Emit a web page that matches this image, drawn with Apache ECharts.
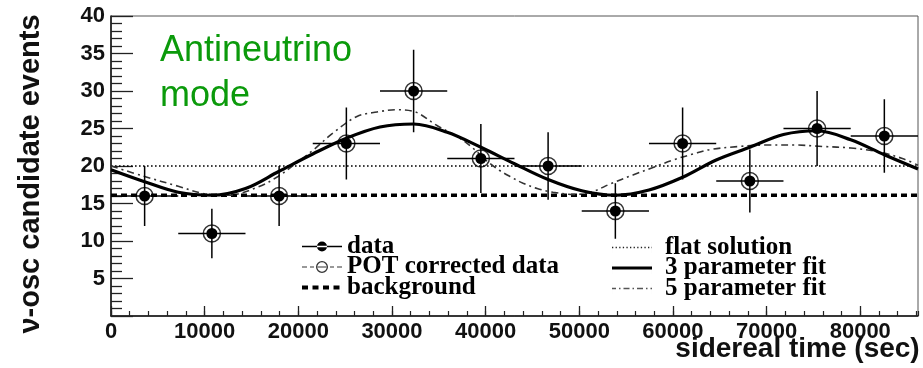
<!DOCTYPE html>
<html>
<head>
<meta charset="utf-8">
<script src="https://cdn.jsdelivr.net/npm/echarts@6/dist/echarts.min.js"></script>
<style>
  html, body { margin: 0; padding: 0; background: #fff; }
  #chart { width: 923px; height: 368px; }
</style>
</head>
<body>
<div id="chart"></div>
<script>
// Sidereal-time bins (seconds) and candidate event counts
const dayLength = 86164;
const binCenters = [3590, 10770, 17950, 25130, 32310, 39490, 46670, 53850, 61030, 68210, 75390, 82570];
const binHalfWidth = 3590;
const eventCounts = [16, 11, 16, 23, 30, 21, 20, 14, 23, 18, 25, 24];
const countErrors = [4.0, 3.3, 4.0, 4.8, 5.5, 4.6, 4.5, 3.7, 4.8, 4.2, 5.0, 4.9];

// Horizontal reference levels
const backgroundLevel = 16.1;
const flatLevel = 20.0;

// 3 parameter fit curve
const fit3Times = [0, 3590, 7180, 10770, 14360, 17950, 21540, 25130, 28720, 32310, 35900, 39490, 43080,
  46670, 50260, 53850, 57440, 61030, 64620, 68210, 71800, 75390, 78980, 82570, 86164];
const fit3Values = [19.5, 17.9, 16.5, 16.1, 17.0, 19.3, 21.6, 23.7, 25.2, 25.6, 24.5, 22.5, 20.3,
  18.2, 16.7, 16.1, 16.8, 18.5, 20.8, 22.5, 24.2, 24.7, 23.5, 21.5, 19.6];

// 5 parameter fit curve
const fit5Times = [0, 3590, 7180, 10000, 12500, 15700, 17830, 19700, 21570, 23700, 26260, 28400, 30500,
  32500, 34800, 37260, 38540, 40200, 41500, 42600, 44000, 45500, 47200, 49500, 51460, 53280, 55730,
  57870, 60010, 62140, 64000, 67000, 70000, 73000, 76000, 79000, 81900, 84500, 86164];
const fit5Values = [20.0, 18.6, 17.3, 16.3, 16.1, 17.2, 18.6, 20.3, 22.1, 24.4, 26.6, 27.2, 27.5,
  27.2, 25.4, 23.7, 22.5, 20.6, 19.4, 18.6, 17.7, 17.0, 16.5, 16.2, 16.6, 17.6, 18.8,
  19.8, 20.8, 21.6, 22.2, 22.6, 22.8, 22.8, 22.6, 22.4, 21.9, 21.0, 20.1];

const pointData = binCenters.map((t, i) => [t, eventCounts[i], countErrors[i]]);
const zip = (ts, vs) => ts.map((t, i) => [t, vs[i]]);

const sansBold = { fontFamily: 'Liberation Sans, Arial, sans-serif', fontWeight: 'bold', color: '#111' };
const legendText = { fontFamily: 'Liberation Serif, Times New Roman, serif', fontWeight: 'bold',
  fontSize: 25, lineHeight: 20, color: '#000' };

// Legend icon paths: a row of rectangles along y = 6 inside a 40 x 12 box
function dashPath(dash, gap, h, phase) {
  let d = '';
  for (let x = phase || 0; x < 40; x += dash + gap) {
    const w = Math.min(dash, 40 - x);
    d += 'M' + x + ',' + (6 - h / 2) + 'h' + w + 'v' + h + 'h' + (-w) + 'z ';
  }
  return d;
}
const frameDots = 'M0,0h0.01v12h-0.01z M39.99,0h0.01v12h-0.01z ';
const iconData = 'path://' + frameDots + 'M0,5.3h40v1.4h-40z M15,6a5,5 0 1,0 10,0a5,5 0 1,0 -10,0z';
const iconPot = 'path://' + frameDots + 'M0,5.4h5v1.2h-5z M8,5.4h4v1.2h-4z M28,5.4h4v1.2h-4z M35,5.4h5v1.2h-5z ' +
  'M15,5.4h10v1.2h-10z M14,6a6,6 0 1,0 12,0a6,6 0 1,0 -12,0z M15.3,6a4.7,4.7 0 1,1 9.4,0a4.7,4.7 0 1,1 -9.4,0z';
const iconBackground = 'path://' + frameDots + dashPath(6, 4.5, 4, 0);
const iconFlat = 'path://' + frameDots + dashPath(1.3, 2.3, 1.3, 0);
const iconFit3 = 'path://' + frameDots + 'M0,4.4h40v3.2h-40z';
const iconFit5 = 'path://' + frameDots +
  'M0,5.3h4v1.4h-4z M7,5.3h1.5v1.4h-1.5z M11.5,5.3h6v1.4h-6z M20.5,5.3h1.5v1.4h-1.5z ' +
  'M25,5.3h6v1.4h-6z M34,5.3h1.5v1.4h-1.5z M38.5,5.3h1.5v1.4h-1.5z';

const chart = echarts.init(document.getElementById('chart'), null, { renderer: 'canvas' });
const plain = v => String(v);

chart.setOption({
  animation: false,
  backgroundColor: '#fff',
  title: {
    text: 'Antineutrino\nmode',
    left: 160, top: 29, padding: 0,
    textStyle: { fontFamily: 'Liberation Sans, Arial, sans-serif', fontWeight: 'normal',
      fontSize: 36, lineHeight: 45, color: '#0b9a0b' }
  },
  grid: {
    left: 111, right: 5, top: 16, bottom: 52,
    containLabel: false, outerBoundsMode: 'none',
    show: true, borderColor: '#555', borderWidth: 1, backgroundColor: 'transparent'
  },
  legend: [
    {
      orient: 'vertical', left: 302, top: 234, padding: 0, itemGap: -4.5,
      itemWidth: 40, itemHeight: 12, selectedMode: false, symbolKeepAspect: true,
      textStyle: legendText,
      data: [
        { name: 'data', icon: iconData, itemStyle: { color: '#000', borderWidth: 0 } },
        { name: 'POT corrected data', icon: iconPot, itemStyle: { color: '#000', borderWidth: 0 } },
        { name: 'background', icon: iconBackground, itemStyle: { color: '#000', borderWidth: 0 } }
      ]
    },
    {
      orient: 'vertical', left: 612, top: 235, padding: 0, itemGap: -4.5,
      itemWidth: 40, itemHeight: 12, selectedMode: false, symbolKeepAspect: true,
      textStyle: Object.assign({}, legendText, { padding: [0, 0, 0, 8] }),
      data: [
        { name: 'flat solution', icon: iconFlat, itemStyle: { color: '#222', borderWidth: 0 } },
        { name: '3 parameter fit', icon: iconFit3, itemStyle: { color: '#000', borderWidth: 0 } },
        { name: '5 parameter fit', icon: iconFit5, itemStyle: { color: '#555', borderWidth: 0 } }
      ]
    }
  ],
  xAxis: [
    {
      type: 'value', min: 0, max: dayLength, interval: 10000, position: 'bottom',
      name: 'sidereal time (sec)', nameLocation: 'middle', nameGap: 19, nameMoveOverlap: false,
      nameTextStyle: Object.assign({}, sansBold, { fontSize: 28, align: 'center',
        verticalAlign: 'top', padding: [0, 0, 0, 566] }),
      axisLine: { show: true, onZero: false, lineStyle: { color: '#111', width: 1.5 } },
      axisTick: { show: true, inside: true, length: 10, lineStyle: { color: '#222', width: 1.3 } },
      axisLabel: Object.assign({}, sansBold, { fontSize: 22, margin: 5, showMaxLabel: false, formatter: plain }),
      splitLine: { show: false }
    },
    {
      type: 'value', min: 0, max: dayLength, interval: 2000, position: 'bottom',
      axisLine: { show: false },
      axisTick: { show: true, inside: true, length: 5, lineStyle: { color: '#222', width: 1.2 } },
      axisLabel: { show: false },
      splitLine: { show: false }
    }
  ],
  yAxis: {
    type: 'value', min: 0, max: 40, interval: 5,
    name: 'ν-osc candidate events', nameLocation: 'middle', nameGap: 66,
    nameTextStyle: Object.assign({}, sansBold, { fontSize: 29, padding: [0, 16, 0, 0] }),
    axisLine: { show: true, onZero: false, lineStyle: { color: '#111', width: 1.5 } },
    axisTick: { show: true, inside: true, length: 22, lineStyle: { color: '#222', width: 1.3 } },
    minorTick: { show: true, splitNumber: 5, length: 11, lineStyle: { color: '#222', width: 1.3 } },
    axisLabel: Object.assign({}, sansBold, { fontSize: 22, margin: 6, showMinLabel: false, formatter: plain }),
    splitLine: { show: false },
    minorSplitLine: { show: false }
  },
  series: [
    {
      name: 'flat solution', type: 'line', data: [[0, flatLevel], [dayLength, flatLevel]],
      symbol: 'none', z: 2, color: '#000',
      lineStyle: { color: '#000', width: 1.6, type: [1.6, 2.4] }
    },
    {
      name: 'background', type: 'line', data: [[0, backgroundLevel], [dayLength, backgroundLevel]],
      symbol: 'none', z: 2, color: '#000',
      lineStyle: { color: '#000', width: 3.5, type: [6, 4] }
    },
    {
      name: '5 parameter fit', type: 'line', data: zip(fit5Times, fit5Values),
      symbol: 'none', smooth: 0.35, z: 3, color: '#333',
      lineStyle: { color: '#333', width: 1.6, type: [7, 4, 2, 4] }
    },
    {
      name: '3 parameter fit', type: 'line', data: zip(fit3Times, fit3Values),
      symbol: 'none', smooth: 0.35, z: 4, color: '#000',
      lineStyle: { color: '#000', width: 3.2 }
    },
    {
      name: 'POT corrected data', type: 'scatter', data: pointData.map(p => [p[0], p[1]]),
      symbol: 'circle', symbolSize: 17, z: 5,
      itemStyle: { color: 'rgba(0,0,0,0)', borderColor: '#000', borderWidth: 1.5 }
    },
    {
      name: 'data', type: 'custom', data: pointData, z: 6,
      itemStyle: { color: '#000' },
      encode: { x: 0, y: 1 },
      renderItem: function (params, api) {
        const x = api.value(0), y = api.value(1), e = api.value(2);
        const c = api.coord([x, y]);
        const top = api.coord([x, y + e]);
        const bot = api.coord([x, y - e]);
        const lft = api.coord([x - binHalfWidth, y]);
        const rgt = api.coord([x + binHalfWidth, y]);
        const ls = { stroke: '#000', lineWidth: 1.5 };
        return {
          type: 'group',
          children: [
            { type: 'line', shape: { x1: c[0], y1: top[1], x2: c[0], y2: bot[1] }, style: ls },
            { type: 'line', shape: { x1: lft[0], y1: c[1], x2: rgt[0], y2: c[1] }, style: ls },
            { type: 'circle', shape: { cx: c[0], cy: c[1], r: 5.5 }, style: { fill: '#000' } }
          ]
        };
      }
    }
  ]
});
</script>
</body>
</html>
